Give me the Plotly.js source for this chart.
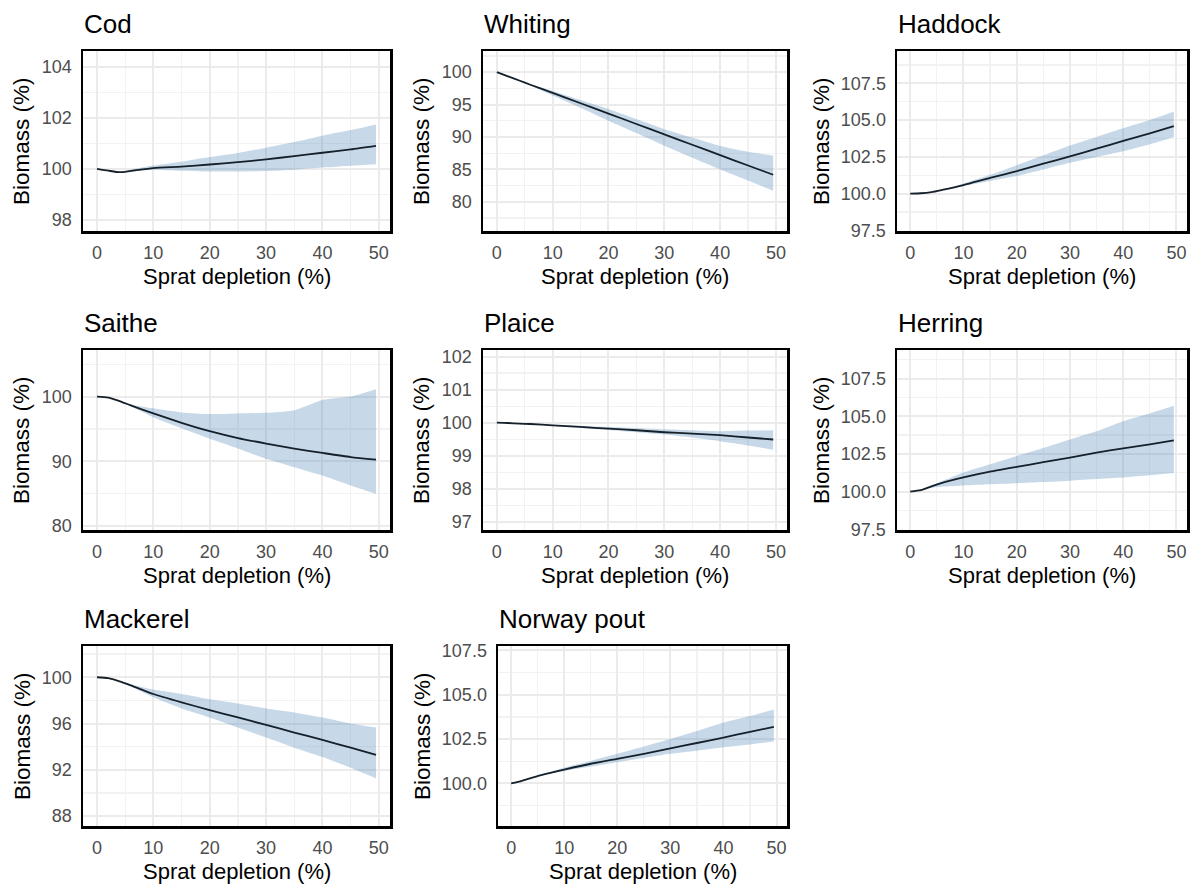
<!DOCTYPE html>
<html>
<head>
<meta charset="utf-8">
<script src="https://cdn.plot.ly/plotly-3.0.1.min.js"></script>
<style>html,body{margin:0;padding:0;background:#fff;}#chart{width:1191px;height:886px;}</style>
</head>
<body>
<div id="chart"></div>
<script>
// ---- Data ----
const species = ["Cod", "Whiting", "Haddock", "Saithe", "Plaice", "Herring", "Mackerel", "Norway pout"];
const depletion = [0, 2, 4, 6, 10, 15, 20, 25, 30, 35, 40, 45, 49.5];

const codMean  = [100.0, 99.93, 99.87, 99.92, 100.03, 100.09, 100.17, 100.26, 100.37, 100.5, 100.63, 100.76, 100.9];
const codUpper = [100.0, 99.93, 99.88, 99.97, 100.13, 100.28, 100.46, 100.62, 100.83, 101.05, 101.3, 101.52, 101.74];
const codLower = [100.0, 99.93, 99.86, 99.9, 99.97, 99.93, 99.9, 99.9, 99.92, 99.97, 100.05, 100.12, 100.18];

const whitingMean  = [100, 99.35, 98.7, 98.05, 96.8, 95.2, 93.6, 92.0, 90.4, 88.8, 87.2, 85.6, 84.17];
const whitingUpper = [100, 99.36, 98.73, 98.12, 97.1, 95.7, 94.3, 92.75, 91.2, 89.9, 88.6, 87.7, 87.1];
const whitingLower = [100, 99.34, 98.67, 97.98, 96.4, 94.5, 92.5, 90.6, 88.66, 86.8, 85.0, 83.3, 81.7];

const haddockMean  = [100, 100.02, 100.1, 100.25, 100.58, 101.06, 101.52, 102.03, 102.53, 103.05, 103.58, 104.1, 104.58];
const haddockUpper = [100, 100.02, 100.1, 100.27, 100.67, 101.27, 101.93, 102.6, 103.27, 103.85, 104.44, 105.0, 105.56];
const haddockLower = [100, 100.02, 100.1, 100.23, 100.52, 100.86, 101.19, 101.63, 102.09, 102.48, 102.87, 103.35, 103.83];

const saitheMean  = [100, 99.85, 99.3, 98.65, 97.4, 95.96, 94.66, 93.6, 92.75, 91.97, 91.3, 90.67, 90.26];
const saitheUpper = [100, 99.86, 99.33, 98.8, 98.19, 97.56, 97.3, 97.4, 97.5, 97.9, 99.48, 100.0, 101.14];
const saitheLower = [100, 99.84, 99.25, 98.5, 96.8, 95.1, 93.5, 92.0, 90.4, 89.1, 87.8, 86.27, 84.97];

const plaiceMean  = [100, 99.99, 99.97, 99.96, 99.92, 99.87, 99.82, 99.77, 99.71, 99.67, 99.62, 99.55, 99.49];
const plaiceUpper = [100, 99.99, 99.97, 99.96, 99.93, 99.9, 99.87, 99.84, 99.8, 99.77, 99.74, 99.76, 99.77];
const plaiceLower = [100, 99.99, 99.97, 99.96, 99.91, 99.84, 99.78, 99.71, 99.64, 99.55, 99.44, 99.31, 99.18];

const herringMean  = [100, 100.09, 100.35, 100.58, 100.94, 101.32, 101.64, 101.95, 102.26, 102.59, 102.87, 103.14, 103.4];
const herringUpper = [100, 100.1, 100.4, 100.7, 101.27, 101.82, 102.37, 102.9, 103.46, 104.0, 104.67, 105.2, 105.7];
const herringLower = [100, 100.08, 100.25, 100.32, 100.4, 100.48, 100.55, 100.63, 100.72, 100.83, 100.94, 101.08, 101.23];

const mackerelMean  = [100, 99.92, 99.65, 99.3, 98.55, 97.83, 97.16, 96.52, 95.88, 95.22, 94.58, 93.91, 93.28];
const mackerelUpper = [100, 99.93, 99.68, 99.4, 98.93, 98.55, 98.1, 97.74, 97.3, 96.96, 96.52, 96.0, 95.65];
const mackerelLower = [100, 99.91, 99.62, 99.2, 98.26, 97.3, 96.52, 95.65, 94.78, 93.91, 93.1, 92.17, 91.25];

const poutMean  = [100, 100.15, 100.33, 100.5, 100.78, 101.11, 101.39, 101.67, 101.98, 102.28, 102.59, 102.91, 103.19];
const poutUpper = [100, 100.15, 100.34, 100.53, 100.89, 101.27, 101.67, 102.08, 102.5, 102.95, 103.43, 103.8, 104.17];
const poutLower = [100, 100.15, 100.32, 100.47, 100.7, 100.95, 101.2, 101.43, 101.67, 101.85, 102.04, 102.2, 102.37];

const means  = [codMean, whitingMean, haddockMean, saitheMean, plaiceMean, herringMean, mackerelMean, poutMean];
const uppers = [codUpper, whitingUpper, haddockUpper, saitheUpper, plaiceUpper, herringUpper, mackerelUpper, poutUpper];
const lowers = [codLower, whitingLower, haddockLower, saitheLower, plaiceLower, herringLower, mackerelLower, poutLower];

const xTitle = "Sprat depletion (%)";
const yTitle = "Biomass (%)";

// ---- Layout config ----
const W = 1191, H = 886;
// panel boxes in px: [left, right, top, bottom]
const boxes = [
  [83, 390, 51, 231], [483, 787, 51, 231], [897, 1187, 51, 231],
  [83, 390, 350, 530], [483, 787, 350, 530], [897, 1187, 350, 530],
  [83, 390, 646, 826], [498, 787, 646, 826]
];
const yAxisCfg = [
  {range: [97.57, 104.61], tick0: 98, dtick: 2, fmt: ""},
  {range: [75.5, 103.25], tick0: 80, dtick: 5, fmt: ""},
  {range: [97.45, 109.7], tick0: 97.5, dtick: 2.5, fmt: ".1f"},
  {range: [79.4, 107.2], tick0: 80, dtick: 10, fmt: ""},
  {range: [96.75, 102.2], tick0: 97, dtick: 1, fmt: ""},
  {range: [97.45, 109.4], tick0: 97.5, dtick: 2.5, fmt: ".1f"},
  {range: [87.14, 102.7], tick0: 88, dtick: 4, fmt: ""},
  {range: [97.6, 107.75], tick0: 97.5, dtick: 2.5, fmt: ".1f"}
];
const colYTitleX = [22, 422, 822];

const FONT = "Liberation Sans, Arial, Helvetica, sans-serif";
const traces = [];
const layout = {
  width: W, height: H, autosize: false,
  margin: {l: 0, r: 0, t: 0, b: 0, pad: 0},
  paper_bgcolor: "#fff", plot_bgcolor: "#fff",
  showlegend: false,
  font: {family: FONT, color: "#000"},
  annotations: []
};

species.forEach((name, i) => {
  const k = i + 1;
  const xa = "x" + (k === 1 ? "" : k), ya = "y" + (k === 1 ? "" : k);
  const [l, r, t, b] = boxes[i];
  const col = i % 3;
  traces.push({x: depletion, y: lowers[i], xaxis: xa, yaxis: ya, type: "scatter", mode: "lines",
    line: {width: 0, shape: "spline", smoothing: 0.6}, hoverinfo: "skip"});
  traces.push({x: depletion, y: uppers[i], xaxis: xa, yaxis: ya, type: "scatter", mode: "lines",
    line: {width: 0, shape: "spline", smoothing: 0.6}, fill: "tonexty", fillcolor: "rgba(70,130,180,0.3)", hoverinfo: "skip"});
  traces.push({x: depletion, y: means[i], xaxis: xa, yaxis: ya, type: "scatter", mode: "lines",
    line: {width: 1.8, color: "#15202b", shape: "spline", smoothing: 0.6}, hoverinfo: "skip"});

  const common = {
    showline: true, mirror: true, linecolor: "#000", linewidth: 2.5,
    zeroline: false, ticks: "", showgrid: true, gridcolor: "#ebebeb", gridwidth: 2,
    tickfont: {family: FONT, size: 18, color: "#4d4d4d"},
    fixedrange: true, layer: "below traces"
  };
  const yc = yAxisCfg[i];
  layout["xaxis" + (k === 1 ? "" : k)] = Object.assign({}, common, {
    domain: [l / W, r / W], anchor: ya, range: [-2.475, 51.975],
    tickmode: "linear", tick0: 0, dtick: 10, ticklabelstandoff: 4,
    minor: {dtick: 5, showgrid: true, gridcolor: "#f2f2f2", gridwidth: 1.3, ticks: ""}
  });
  layout["yaxis" + (k === 1 ? "" : k)] = Object.assign({}, common, {
    domain: [1 - b / H, 1 - t / H], anchor: xa, range: yc.range,
    tickmode: "linear", tick0: yc.tick0, dtick: yc.dtick, tickformat: yc.fmt, ticklabelstandoff: 5,
    minor: {tick0: yc.tick0, dtick: yc.dtick / 2, showgrid: true, gridcolor: "#f2f2f2", gridwidth: 1.3, ticks: ""}
  });

  // panel title
  layout.annotations.push({text: name, xref: "paper", yref: "paper", x: (l - 1) / W, y: 1 - (t - 27) / H,
    xanchor: "left", yanchor: "middle", showarrow: false, font: {family: FONT, size: 26, color: "#000"}});
  // x axis title
  layout.annotations.push({text: xTitle, xref: "paper", yref: "paper", x: ((l + r) / 2) / W, y: 1 - (b + 45) / H,
    xanchor: "center", yanchor: "middle", showarrow: false, font: {family: FONT, size: 22, color: "#000"}});
  // y axis title
  layout.annotations.push({text: yTitle, xref: "paper", yref: "paper", x: colYTitleX[col] / W, y: 1 - ((t + b) / 2) / H,
    xanchor: "center", yanchor: "middle", textangle: -90, showarrow: false, font: {family: FONT, size: 22.5, color: "#000"}});
});

Plotly.newPlot("chart", traces, layout, {staticPlot: true, displayModeBar: false});
</script>
</body>
</html>
